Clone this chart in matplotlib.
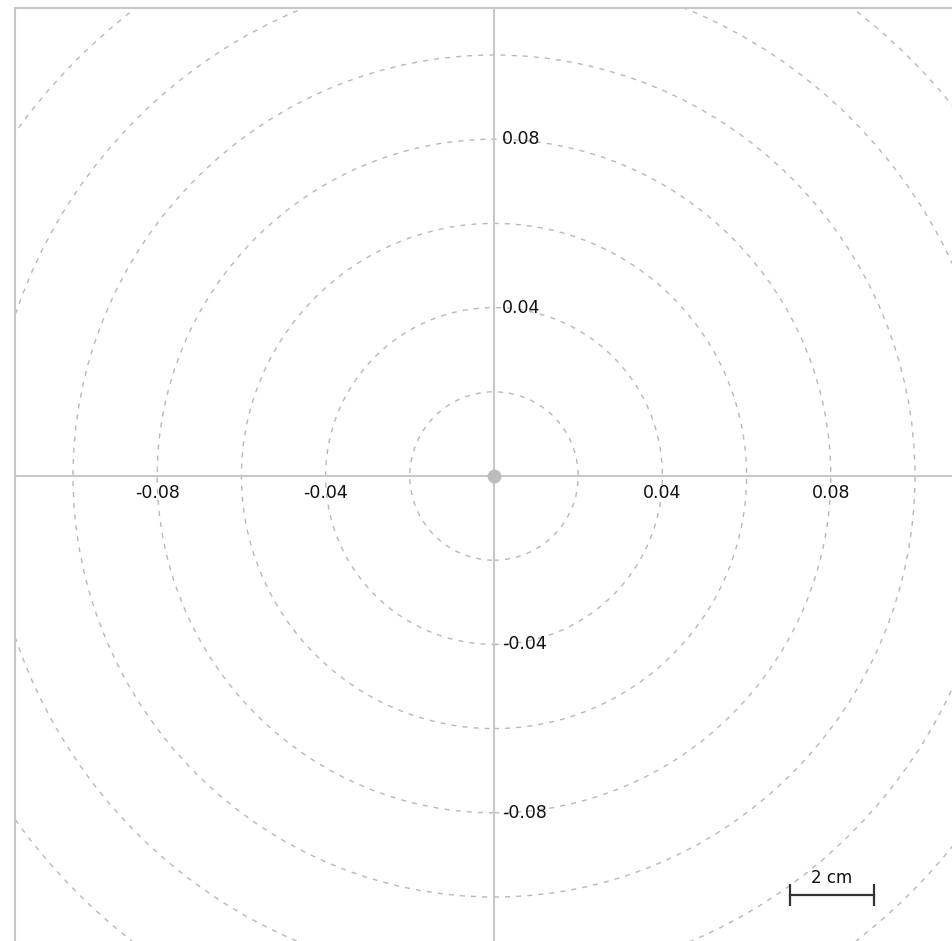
#!/usr/bin/env python3
"""Concentric range rings around the origin, with crosshair axes,
on-axis tick labels and a small scale bar in the lower right."""

import matplotlib
matplotlib.use("Agg")
import matplotlib.pyplot as plt
from matplotlib.patches import Circle

# ring radii (metres) and axis labels
RING_RADII = [0.02, 0.04, 0.06, 0.08, 0.10, 0.12, 0.14]
X_TICKS = [-0.08, -0.04, 0.04, 0.08]
Y_TICKS = [0.08, 0.04, -0.04, -0.08]
SCALE_LEN = 0.02
SCALE_LABEL = "2 cm"

AXIS_GREY = "#c8c8c8"
RING_GREY = "#b8b8b8"

W, H, DPI = 953, 941, 100
PX_PER_UNIT = 4210.0
CX, CY = 494.0, 476.0          # origin in pixels
LEFT_PX, TOP_PX = 15.5, 8.0    # frame edges in pixels


def main() -> None:
    fig = plt.figure(figsize=(W / DPI, H / DPI), dpi=DPI)
    ax = fig.add_axes([LEFT_PX / W, 0.0, 1 - LEFT_PX / W, 1 - TOP_PX / H])

    ax.set_xlim((LEFT_PX - CX) / PX_PER_UNIT, (W - CX) / PX_PER_UNIT)
    ax.set_ylim((CY - H) / PX_PER_UNIT, (CY - TOP_PX) / PX_PER_UNIT)
    ax.set_xticks([])
    ax.set_yticks([])

    for side in ("right", "bottom"):
        ax.spines[side].set_visible(False)
    for side in ("left", "top"):
        ax.spines[side].set_color(AXIS_GREY)
        ax.spines[side].set_linewidth(1.5)

    # dashed rings
    for r in RING_RADII:
        ring = Circle((0, 0), r, fill=False, edgecolor=RING_GREY,
                      linewidth=1.0, linestyle=(0, (3.6, 4.4)))
        ax.add_patch(ring)

    # crosshair
    ax.axhline(0, color=AXIS_GREY, linewidth=1.5, zorder=2)
    ax.axvline(0, color=AXIS_GREY, linewidth=1.5, zorder=2)
    ax.plot([0], [0], marker="o", markersize=10, color="#bcbcbc",
            markeredgewidth=0, zorder=3)

    # tick labels sitting on the axes
    for v in X_TICKS:
        ax.annotate(f"{v:.2f}", xy=(v, 0), xytext=(0, -6),
                    textcoords="offset points", ha="center", va="top",
                    fontsize=12.5, color="#111111")
    for v in Y_TICKS:
        ax.annotate(f"{v:.2f}", xy=(0, v), xytext=(5.5, 0),
                    textcoords="offset points", ha="left", va="center",
                    fontsize=12.5, color="#111111")

    # scale bar
    sx = (790 - CX) / PX_PER_UNIT
    sy = (CY - 895) / PX_PER_UNIT
    ax.plot([sx, sx + SCALE_LEN], [sy, sy], color="#333333", linewidth=1.6,
            marker="|", markersize=16, markeredgewidth=1.6, zorder=4)
    ax.annotate(SCALE_LABEL, xy=(sx + SCALE_LEN / 2, sy), xytext=(0, 6),
                textcoords="offset points", ha="center", va="bottom",
                fontsize=12, color="#111111")

    fig.savefig("out.png", dpi=DPI)
    plt.close(fig)


if __name__ == "__main__":
    main()
